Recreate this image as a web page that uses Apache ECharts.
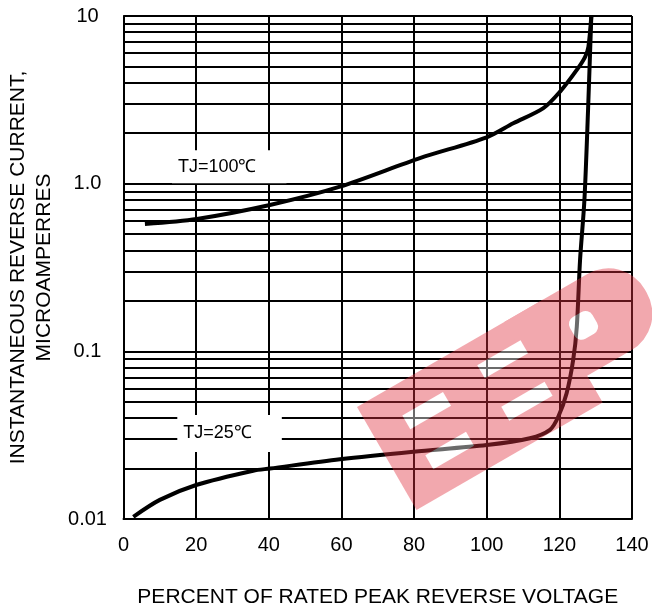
<!DOCTYPE html>
<html>
<head>
<meta charset="utf-8">
<script src="https://cdn.jsdelivr.net/npm/echarts@6/dist/echarts.min.js"></script>
<style>
html,body{margin:0;padding:0;background:#fff;}
#c{width:652px;height:609px;}
</style>
</head>
<body>
<div id="c"></div>
<script>
// ---- data ----
const xTickValues = [0, 20, 40, 60, 80, 100, 120, 140];
const yTickValues = [0.01, 0.1, 1, 10];
const yTickLabels = ['0.01', '0.1', '1.0', '10'];
const minorGridY = [0.02,0.03,0.04,0.05,0.06,0.07,0.08,0.09,
                    0.2,0.3,0.4,0.5,0.6,0.7,0.8,0.9,
                    2,3,4,5,6,7,8,9];

const pct100 = [5.9, 20.2, 40.3, 59.6, 81.6, 100, 107.3, 115.6, 120.2, 124.8, 127.1, 128.0, 128.8];
const cur100 = [0.575, 0.616, 0.746, 0.959, 1.42, 1.89, 2.29, 2.82, 3.54, 4.77, 5.71, 6.56, 10];

const pct25 = [2.7, 10.0, 20.2, 35.7, 40.3, 59.6, 79.8, 100, 111.9, 117.4, 119.7, 122.0, 123.8, 124.8, 125.7, 126.9, 127.9, 128.8];
const cur25 = [0.0103, 0.0130, 0.0160, 0.0194, 0.0200, 0.0227, 0.0252, 0.0276, 0.0303, 0.034, 0.0407, 0.0562, 0.0887, 0.140, 0.351, 0.80, 2.75, 10];

const labelNames = ['TJ=100℃', 'TJ=25℃'];
const labelAt = [[29.1, 1.263], [29.2, 0.0324]];

const xName = 'PERCENT OF RATED PEAK REVERSE VOLTAGE';
const yName = 'INSTANTANEOUS REVERSE CURRENT,\nMICROAMPERRES';

// ---- chart ----
const chart = echarts.init(document.getElementById('c'), null, {renderer: 'canvas'});
const FONT = 'Liberation Sans, Arial, sans-serif';

function zip(a, b) { return a.map((v, i) => [v, b[i]]); }

// watermark logo (decoration, drawn on its own translucent layer)
const WM_PINK = 'rgb(225,50,65)';
const WM_Z = 10;
function wmRect(x, y, w, h, fill, r) {
  return {type: 'rect', zlevel: WM_Z, silent: true,
    shape: {x: x, y: y, width: w, height: h, r: r || 0}, style: {fill: fill}};
}
const wmChildren = [
  wmRect(0, 0, 215, 119, WM_PINK),
  wmRect(170, 0, 138, 88, WM_PINK, [0, 42, 42, 0]),
  // E1 slits
  wmRect(35, 30, 47, 16, '#fff'),
  wmRect(35, 76, 47, 16, '#fff'),
  // E2 slits
  wmRect(125, 24, 50, 15, '#fff'),
  wmRect(125, 72, 50, 16, '#fff'),
  // P bowl hole
  wmRect(224, 30, 26, 25, '#fff', 8)
];

const option = {
  animation: false,
  backgroundColor: '#fff',
  grid: {left: 123.5, right: 20, top: 16, bottom: 90, containLabel: false, outerBoundsMode: 'none'},
  xAxis: {
    type: 'value', min: 0, max: 140, interval: 20,
    name: xName, nameLocation: 'middle', nameGap: 68,
    nameTextStyle: {fontFamily: FONT, fontSize: 21, color: '#000'},
    axisLine: {show: true, lineStyle: {color: '#000', width: 2}},
    axisTick: {show: false},
    axisLabel: {fontFamily: FONT, fontSize: 20, color: '#000', margin: 16,
      formatter: v => (xTickValues.indexOf(v) >= 0 ? String(v) : '')},
    splitLine: {show: true, lineStyle: {color: '#000', width: 2}}
  },
  yAxis: {
    type: 'log', logBase: 10, min: 0.01, max: 10,
    name: yName, nameLocation: 'middle', nameGap: 65, nameRotate: 90,
    nameTextStyle: {fontFamily: FONT, fontSize: 21, color: '#000', lineHeight: 26, align: 'center'},
    axisLine: {show: true, lineStyle: {color: '#000', width: 2}},
    axisTick: {show: false},
    axisLabel: {fontFamily: FONT, fontSize: 20, color: '#000', margin: 36, align: 'center',
      formatter: function (v) {
        for (let i = 0; i < yTickValues.length; i++) {
          if (Math.abs(Math.log10(v) - Math.log10(yTickValues[i])) < 1e-6) return yTickLabels[i];
        }
        return '';
      }},
    splitLine: {show: true, lineStyle: {color: '#000', width: 2}}
  },
  series: [
    {
      type: 'line', data: [], z: 1, silent: true,
      markLine: {
        silent: true, symbol: ['none', 'none'], animation: false,
        label: {show: false},
        lineStyle: {color: '#000', width: 2, type: 'solid'},
        emphasis: {disabled: true},
        data: minorGridY.map(v => ({yAxis: v}))
      }
    },
    {
      name: labelNames[0], type: 'line', z: 3,
      data: zip(pct100, cur100),
      showSymbol: false, smooth: 0.3,
      lineStyle: {color: '#000', width: 4},
      markPoint: {
        symbol: 'circle', symbolSize: 0, silent: true,
        label: {show: true, position: 'inside', formatter: labelNames[0],
          fontFamily: FONT, fontSize: 18, color: '#000',
          backgroundColor: '#fff', padding: [8, 30, 7, 6]},
        data: [{coord: labelAt[0]}]
      }
    },
    {
      name: labelNames[1], type: 'line', z: 3,
      data: zip(pct25, cur25),
      showSymbol: false, smooth: 0.3,
      lineStyle: {color: '#000', width: 4},
      markPoint: {
        symbol: 'circle', symbolSize: 0, silent: true,
        label: {show: true, position: 'inside', formatter: labelNames[1],
          fontFamily: FONT, fontSize: 18, color: '#000',
          backgroundColor: '#fff', padding: [10, 30, 9, 6]},
        data: [{coord: labelAt[1]}]
      }
    }
  ],
  graphic: [{
    type: 'group', x: 357, y: 407, rotation: Math.PI / 6, zlevel: WM_Z, silent: true,
    children: wmChildren
  }]
};
chart.setOption(option);
try {
  const layer = chart.getZr().painter.getLayer(WM_Z);
  if (layer && layer.dom) layer.dom.style.opacity = '0.42';
} catch (e) {}
</script>
</body>
</html>
